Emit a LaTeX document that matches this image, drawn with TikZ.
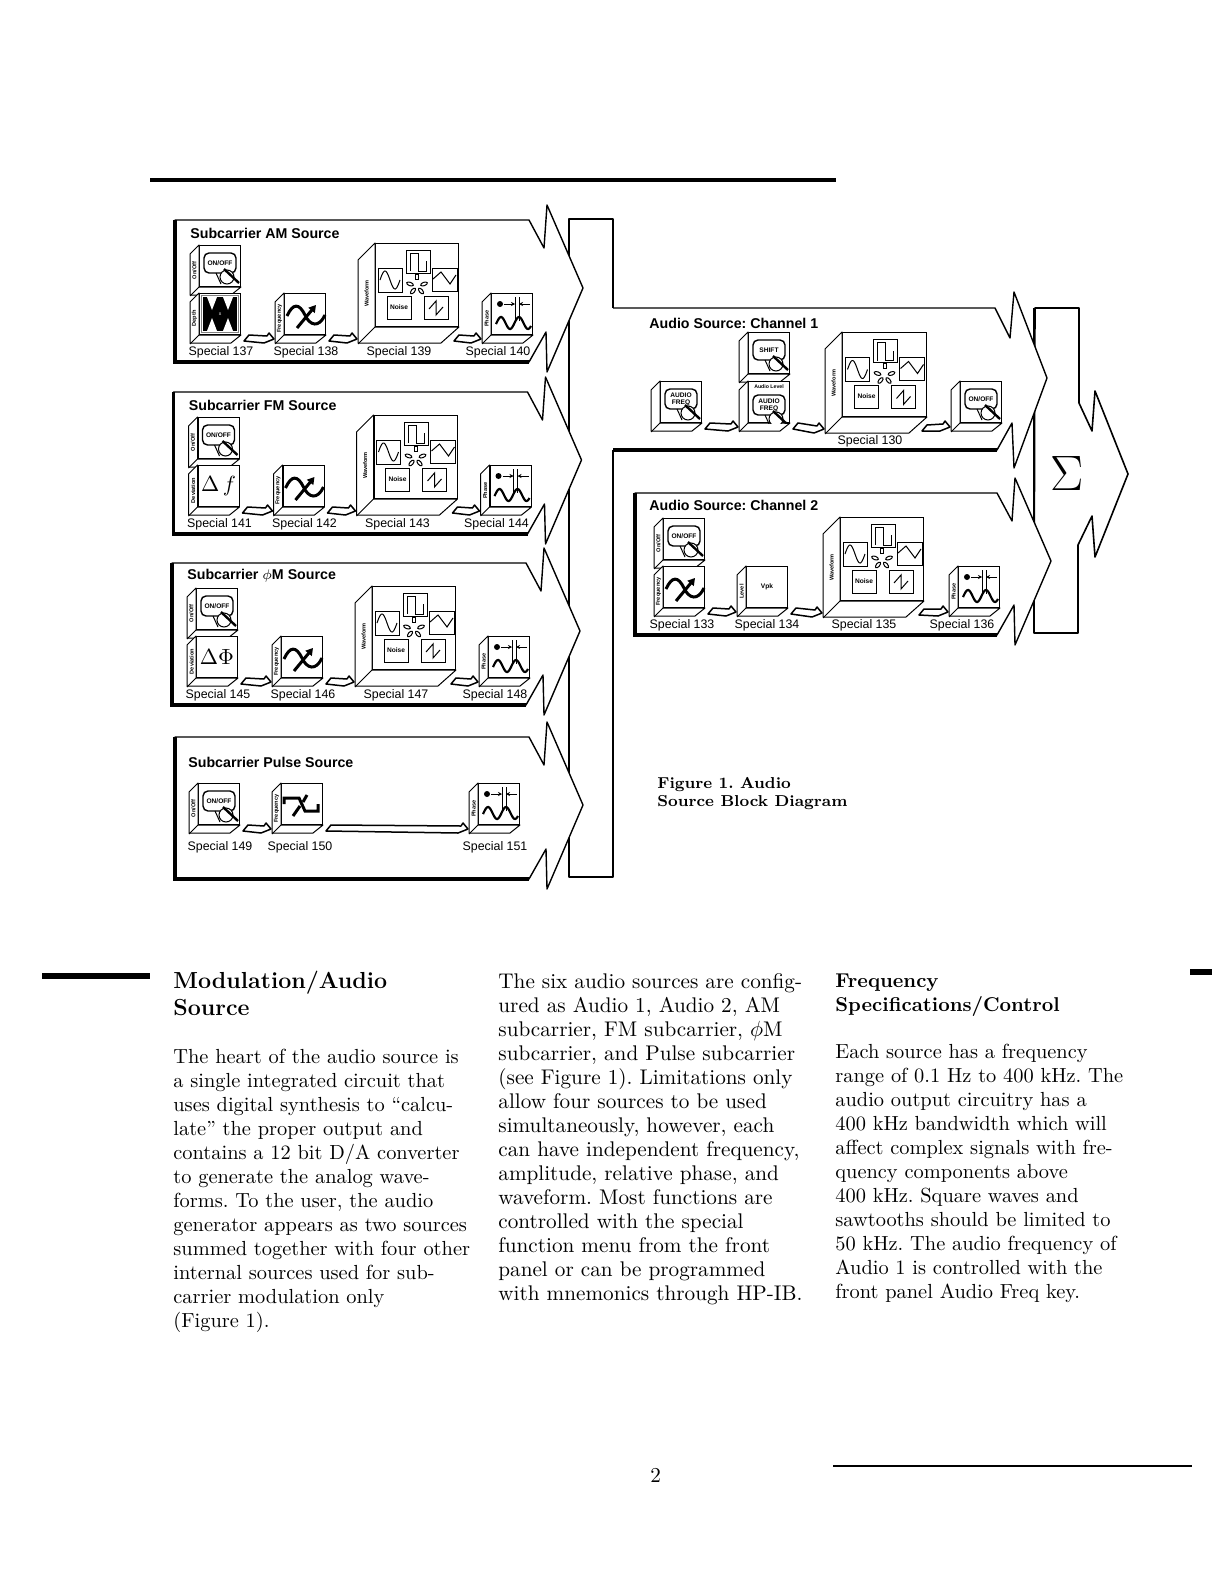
\documentclass[tikz,border=0pt]{standalone}
\usepackage{amsmath, amssymb}
\usepackage{fontspec}
\setsansfont{Liberation Sans}
\usetikzlibrary{positioning, arrows.meta, calc}
\frenchspacing

\tikzset{
	% Text styles
	titleText/.style={font=\sffamily\bfseries\fontsize{7.1}{8}\selectfont, anchor=west, inner sep=0pt},
	labelText/.style={font=\sffamily\fontsize{6.2}{7}\selectfont, inner sep=0pt},
	sideText/.style={font=\sffamily\bfseries\fontsize{2.8}{3}\selectfont, rotate=90, inner sep=0pt},
	keyText/.style={font=\sffamily\bfseries\fontsize{3.3}{3.5}\selectfont, align=center, inner sep=0pt},
	bodyText/.style={font=\fontsize{10.6}{12}\selectfont, align=left, anchor=north west, inner sep=0pt},
	narrowText/.style={bodyText, font=\fontsize{10.2}{12}\selectfont},
	headText/.style={font=\bfseries\fontsize{11.6}{13.2}\selectfont, align=left, anchor=north west, inner sep=0pt},
	% Shape styles
	faceBox/.style={draw=black, line width=0.5pt, fill=white, inner sep=0pt},
	cubeEdge/.style={draw=black, line width=0.5pt, line join=round},
	faceLine/.style={draw=black, line width=0.5pt},
	heavyLine/.style={draw=black, line width=1.6pt},
	arrowShape/.style={draw=black, fill=white, line width=0.7pt, line join=round},
	% The hollow arrow from one cube to the next
	flowArrow/.style={draw=black, fill=white, line width=0.75pt, line join=round,
		to path={-- ($(\tikztostart)+(5,-6)$) -- ($(\tikztotarget)+(-7,-3)$) -- ($(\tikztotarget)+(-5,-6)$)
			-- (\tikztotarget) -- ($(\tikztotarget)+(-10,4)$) -- cycle}},
	% Icons on the cube faces
	keyIcon/.pic={
		\draw[faceLine, rounded corners=2.5pt, line width=0.7pt] (-16,-13) rectangle (16,7);
		\node[keyText] (-key) at (0,-3) {#1};
		\draw[faceLine] (-4,7) -- (1,18);
		\draw[faceLine, fill=white] (7,11) circle (7);
		\draw[draw=black, line width=1.2pt] (4,3) -- (19,17);
	},
	freqIcon/.pic={
		\draw[draw=black, line width=1.5pt] (-18,2) .. controls (-12,-11) and (-6,-11) .. (0,1) .. controls (5,12) and (14,14) .. (20,1);
		\draw[draw=black, line width=1.5pt, -{Triangle[length=3.5pt, width=4pt]}] (-8,14) -- (11,-9);
	},
	pulseIcon/.pic={
		\draw[draw=black, line width=1.5pt] (-18,0) -- (-18,-6) -- (-3,-6) -- (3,7) -- (16,7) -- (16,0);
		\draw[draw=black, line width=1.5pt] (-9,12) -- (-2,2);
		\draw[draw=black, line width=1.5pt] (1,-2) -- (5,-9);
	},
	phaseIcon/.pic={
		\fill (-12,-10) circle (3);
		\draw[faceLine] (3,-17) -- (3,7) (7,-17) -- (7,7);
		\draw[faceLine, -{Stealth[length=2pt, width=2pt]}] (-8,-10) -- (3,-10);
		\draw[faceLine, -{Stealth[length=2pt, width=2pt]}] (18,-10) -- (7,-10);
		\draw[draw=black, line width=1.1pt] plot[domain=-16:19, samples=40] (\x,{9-6*cos(20*(\x-7))});
	},
	depthIcon/.pic={
		\draw[draw=gray, line width=0.5pt] (-18.5,-18.5) rectangle (18.5,18.5);
		\fill (-17,-17) rectangle (17,17);
		\foreach \nx in {-8,8} {
			\fill[white] (\nx-5,-17) -- (\nx,-4) -- (\nx+5,-17) -- cycle;
			\fill[white] (\nx-5,17) -- (\nx,4) -- (\nx+5,17) -- cycle;
		}
		\node[font=\sffamily\fontsize{2.5}{3}\selectfont, text=white, inner sep=0pt] (-mark) at (0,0) {x};
	},
	deltaIcon/.pic={
		\node[font=\fontsize{10.5}{11}\selectfont, inner sep=0pt] (-delta) at (0,0) {#1};
	},
	waveIcon/.pic={
		\draw[faceLine] (-11,-35) rectangle (13,-12);
		\draw[faceLine] (-39,-17) rectangle (-15,7);
		\draw[faceLine] (15,-17) rectangle (40,6);
		\draw[faceLine] (-30,11) rectangle (-6,34);
		\draw[faceLine] (7,11) rectangle (31,34);
		\draw[faceLine] (-7,-14) -- (-7,-32) -- (1,-32) -- (1,-14) -- (9,-14) -- (9,-24);
		\draw[faceLine] plot[domain=0:360, samples=30] ({-37+\x/18},{-5-9*sin(\x)});
		\draw[faceLine] (16,-6) -- (24,-13) -- (33,-1) -- (39,-10);
		\draw[faceLine] (12,24) -- (19,16) -- (19,30) -- (26,22);
		\node[keyText] (-noise) at (-18,22) {Noise};
		\draw[faceLine] (-1.5,-11) rectangle (1.5,-6);
		\foreach \px/\py/\pa in {-7/-1/-20, 7/-1/20, -4/6/50, 4/6/-50}
			\draw[faceLine, shift={(\px,\py)}, rotate=\pa] (0,0) ellipse (3.5 and 1.7);
	}
}

% A face node with its two side panels, and the two points the hollow arrows meet
\newcommand{\cubeBox}[6]{
	\node[faceBox, minimum size=#4*0.5pt, anchor=north west] (#1) at (#2,#3) {};
	\draw[cubeEdge, fill=white] (#1.north west) -- ++(-#5,#5) -- ++(0,#4) -- ++(#4,0) -- (#1.south east) -- (#1.south west) -- cycle;
	\draw[cubeEdge] (#1.south west) -- ++(-#5,#5);
	\node[sideText] (#1Side) at ($(#1.west)+(-#5/2,#5/2)$) {#6};
	\coordinate (#1-in) at ($(#1.south west)+(-#5-1,#5-5)$);
	\coordinate (#1-out) at ($(#1.south east)+(-#5+12,#5-3)$);
}

% The outline of one big source arrow
\newcommand{\sourceArrow}[3]{
	\draw[arrowShape] (#1,#2) -- (#3,#2) -- (#3+15,#2+28) -- (#3+18,#2-15) -- (#3+54,#2+68) -- (#3+18,#2+152) -- (#3+17,#2+112) -- (#3,#2+142) -- (#1,#2+142) -- cycle;
	\draw[heavyLine] (#3,#2+142) -- (#1,#2+142) -- (#1,#2);
}

% The three subcarrier rows that look alike
\newcommand{\sourceRow}[7]{
	\begin{scope}[shift={(#2,#3)}]
		\sourceArrow{175}{220}{529}
		\node[titleText] (#1Title) at (190,233) {#4};
		\cubeBox{#1On}{199}{245}{41}{9}{On/Off}
		\pic (#1OnIcon) at (#1On) {keyIcon={ON/OFF}};
		\cubeBox{#1Dev}{199}{293}{41}{9}{#5}
		\pic (#1DevIcon) at (#1Dev) {#6};
		\cubeBox{#1Freq}{284}{293}{41}{9}{Frequency}
		\pic (#1FreqIcon) at (#1Freq) {freqIcon};
		\cubeBox{#1Wave}{375}{243}{83}{17}{Waveform}
		\pic (#1WaveIcon) at (#1Wave) {waveIcon};
		\cubeBox{#1Phase}{491}{293}{41}{9}{Phase}
		\pic (#1PhaseIcon) at (#1Phase) {phaseIcon};
		\pgfmathtruncatemacro{\labelB}{#7+1}
		\pgfmathtruncatemacro{\labelC}{#7+2}
		\pgfmathtruncatemacro{\labelD}{#7+3}
		\node[labelText] (#1LabelA) at (221,352) {Special #7};
		\node[labelText] (#1LabelB) at (306,352) {Special \labelB};
		\node[labelText] (#1LabelC) at (399,352) {Special \labelC};
		\node[labelText] (#1LabelD) at (498,352) {Special \labelD};
		\draw[flowArrow] (#1Dev-out) to (#1Freq-in);
		\draw[flowArrow] (#1Freq-out) to (#1Wave-in);
		\draw[flowArrow] (#1Wave-out) to (#1Phase-in);
	\end{scope}
}

\begin{document}
\begin{tikzpicture}[x=0.5pt, y=-0.5pt]
		
		\useasboundingbox (0,0) rectangle (1212,1584);
		\fill[white] (0,0) rectangle (1212,1584);
		
		% =========================================================
		% PAGE RULES
		% =========================================================
		\draw[draw=black, line width=2pt] (150,180) -- (836,180);
		\draw[draw=black, line width=3pt] (42,976) -- (150,976);
		\draw[draw=black, line width=3pt] (1190,972) -- (1212,972);
		\draw[draw=black, line width=0.7pt] (833,1466) -- (1192,1466);
		
		% =========================================================
		% THE TWO BUSES
		% =========================================================
		\draw[arrowShape, line width=1pt] (613,308) -- (613,219) -- (569,219) -- (569,877) -- (613,877) -- (613,450);
		\draw[heavyLine, line width=1.3pt] (569,219) -- (569,877);
		
		\draw[arrowShape, line width=0.8pt] (1035,308) -- (1079,308) -- (1079,403) -- (1092,431) -- (1095,391) -- (1128,474) -- (1095,557) -- (1092,516) -- (1078,545) -- (1078,633) -- (1034,633) -- cycle;
		\draw[heavyLine, line width=1.3pt] (1034,308) -- (1034,633);
		\node[inner sep=0pt, font=\fontsize{29}{30}\selectfont] (sumLabel) at (1067,473) {$\Sigma$};
		
		% =========================================================
		% SUBCARRIER SOURCES
		% =========================================================
		\sourceRow{am}{0}{0}{Subcarrier AM Source}{Depth}{depthIcon}{137}
		\sourceRow{fm}{-1.5}{172}{Subcarrier FM Source}{Deviation}{deltaIcon={$\Delta\,f$}}{141}
		\sourceRow{pm}{-3}{343}{Subcarrier $\phi$M Source}{Deviation}{deltaIcon={$\Delta\Phi$}}{145}
		
		% Pulse
		\sourceArrow{175}{737}{529}
		\node[titleText] (pulseTitle) at (188,762) {Subcarrier Pulse Source};
		\cubeBox{pulseOn}{198}{783}{41}{9}{On/Off}
		\pic (pulseOnIcon) at (pulseOn) {keyIcon={ON/OFF}};
		\cubeBox{pulseFreq}{281}{783}{41}{9}{Frequency}
		\pic (pulseFreqIcon) at (pulseFreq) {pulseIcon};
		\cubeBox{pulsePhase}{478}{783}{41}{9}{Phase}
		\pic (pulsePhaseIcon) at (pulsePhase) {phaseIcon};
		\node[labelText] (pulseLabelA) at (220,847) {Special 149};
		\node[labelText] (pulseLabelB) at (300,847) {Special 150};
		\node[labelText] (pulseLabelC) at (495,847) {Special 151};
		\draw[flowArrow] (pulseOn-out) to (pulseFreq-in);
		\draw[flowArrow] (pulseFreq-out) to (pulsePhase-in);
		
		% =========================================================
		% AUDIO CHANNEL 1
		% =========================================================
		\fill[white] (613,308) -- (995,308) -- (1010,338) -- (1014,292) -- (1047,378) -- (1014,468) -- (1012,423) -- (997,450) -- (613,450) -- cycle;
		\draw[arrowShape, fill=none] (613,308) -- (995,308) -- (1010,338) -- (1014,292) -- (1047,378) -- (1014,468) -- (1012,423) -- (997,450) -- (613,450);
		\draw[heavyLine] (997,450) -- (613,450);
		\node[titleText] (chOneTitle) at (649,323) {Audio Source: Channel 1};
		\cubeBox{chOneFreq}{660}{381}{41}{9}{}
		\pic (chOneFreqIcon) at (chOneFreq) {keyIcon={AUDIO\\FREQ}};
		\cubeBox{chOneShift}{748}{332}{41}{9}{}
		\pic (chOneShiftIcon) at (chOneShift) {keyIcon={SHIFT}};
		\cubeBox{chOneLevel}{748}{381}{41}{9}{}
		\begin{scope}
			\clip (chOneLevel.north west) rectangle (chOneLevel.south east);
			\pic (chOneLevelIcon) at ($(chOneLevel)+(0,6)$) {keyIcon={AUDIO\\FREQ}};
		\end{scope}
		\node[keyText, font=\sffamily\bfseries\fontsize{2.6}{3}\selectfont] (chOneLevelText) at ($(chOneLevel.north)+(0,6)$) {Audio Level};
		\cubeBox{chOneWave}{842}{332}{84}{17}{Waveform}
		\pic (chOneWaveIcon) at (chOneWave) {waveIcon};
		\cubeBox{chOneOn}{960}{381}{41}{9}{}
		\pic (chOneOnIcon) at (chOneOn) {keyIcon={ON/OFF}};
		\node[labelText] (chOneLabel) at (870,441) {Special 130};
		\draw[flowArrow] (chOneFreq-out) to (chOneLevel-in);
		\draw[flowArrow] (chOneLevel-out) to (chOneWave-in);
		\draw[flowArrow] (chOneWave-out) to (chOneOn-in);
		
		% =========================================================
		% AUDIO CHANNEL 2
		% =========================================================
		\sourceArrow{635}{493}{997}
		\node[titleText] (chTwoTitle) at (649,505) {Audio Source: Channel 2};
		\cubeBox{chTwoOn}{663}{518}{41}{9}{On/Off}
		\pic (chTwoOnIcon) at (chTwoOn) {keyIcon={ON/OFF}};
		\cubeBox{chTwoFreq}{663}{566}{41}{9}{Frequency}
		\pic (chTwoFreqIcon) at (chTwoFreq) {freqIcon};
		\cubeBox{chTwoLevel}{746}{566}{41}{9}{Level}
		\node[keyText] (chTwoVpk) at (chTwoLevel) {Vpk};
		\cubeBox{chTwoWave}{840}{517}{83}{17}{Waveform}
		\pic (chTwoWaveIcon) at (chTwoWave) {waveIcon};
		\cubeBox{chTwoPhase}{958}{566}{41}{9}{Phase}
		\pic (chTwoPhaseIcon) at (chTwoPhase) {phaseIcon};
		\node[labelText] (chTwoLabelA) at (682,625) {Special 133};
		\node[labelText] (chTwoLabelB) at (767,625) {Special 134};
		\node[labelText] (chTwoLabelC) at (864,625) {Special 135};
		\node[labelText] (chTwoLabelD) at (962,625) {Special 136};
		\draw[flowArrow] (chTwoFreq-out) to (chTwoLevel-in);
		\draw[flowArrow] (chTwoLevel-out) to (chTwoWave-in);
		\draw[flowArrow] (chTwoWave-out) to (chTwoPhase-in);
		
		% =========================================================
		% CAPTION AND TEXT COLUMNS
		% =========================================================
		\node[headText, font=\bfseries\fontsize{7.9}{9}\selectfont] (figCaption) at (657,777) {Figure 1. Audio\\Source Block Diagram};
		
		\node[headText] (leftHead) at (173,971) {Modulation/Audio\\Source};
		\node[narrowText] (leftBody) at (173,1049) {The heart of the audio source is\\
			a single integrated circuit that\\
			uses digital synthesis to “calcu-\\
			late” the proper output and\\
			contains a 12 bit D/A converter\\
			to generate the analog wave-\\
			forms. To the user, the audio\\
			generator appears as two sources\\
			summed together with four other\\
			internal sources used for sub-\\
			carrier modulation only\\
			(Figure 1).};
		
		\node[bodyText] (midBody) at (498,973) {The six audio sources are config-\\
			ured as Audio 1, Audio 2, AM\\
			subcarrier, FM subcarrier, $\phi$M\\
			subcarrier, and Pulse subcarrier\\
			(see Figure 1). Limitations only\\
			allow four sources to be used\\
			simultaneously, however, each\\
			can have independent frequency,\\
			amplitude, relative phase, and\\
			waveform. Most functions are\\
			controlled with the special\\
			function menu from the front\\
			panel or can be programmed\\
			with mnemonics through HP-IB.};
		
		\node[headText, font=\bfseries\fontsize{10}{12}\selectfont] (rightHead) at (835,973) {Frequency\\Specifications/Control};
		\node[narrowText] (rightBody) at (835,1044) {Each source has a frequency\\
			range of 0.1 Hz to 400 kHz. The\\
			audio output circuitry has a\\
			400 kHz bandwidth which will\\
			affect complex signals with fre-\\
			quency components above\\
			400 kHz. Square waves and\\
			sawtooths should be limited to\\
			50 kHz. The audio frequency of\\
			Audio 1 is controlled with the\\
			front panel Audio Freq key.};
		
		\node[bodyText] (pageNumber) at (650,1468) {2};
		
	\end{tikzpicture}
\end{document}
